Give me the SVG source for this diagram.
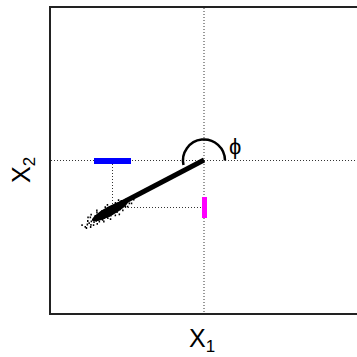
<svg xmlns="http://www.w3.org/2000/svg" width="357" height="357" viewBox="0 0 357 357">
<style>
.frame{fill:none;stroke:#222;stroke-width:2}
.dot{fill:none;stroke:#333;stroke-width:1;stroke-dasharray:1 2}
.lbl{font-family:"Liberation Sans",Arial,sans-serif;fill:#000}
</style>
<rect width="357" height="357" fill="#fff"/>
<g id="frame"><rect class="frame" x="50" y="7" width="330" height="307"/></g>
<g id="connectors">
<line class="dot" x1="204" y1="8" x2="204" y2="313"/>
<line class="dot" x1="51" y1="160.5" x2="357" y2="160.5"/>
<line class="dot" x1="112.5" y1="164" x2="112.5" y2="208"/>
<line class="dot" x1="113" y1="207.5" x2="202" y2="207.5"/>
</g>
<g id="cloud" fill="#000">
<ellipse cx="110" cy="211" rx="20" ry="4.8" transform="rotate(-28 110 211)"/>
<path fill="none" stroke="#000" stroke-width="1.8" d="M86.6 224.5h1.5M87 221h1.5M90.2 224.9h1.5M90.6 221.3h1.5M89.6 217.3h1.5M93.3 222.2h1.5M96.5 223.9h1.5M94.5 218.1h1.5M94.5 215.9h1.5M98.6 221.6h1.5M98.1 218.4h1.5M96.2 212.7h1.5M100.3 218.4h1.5M103.1 221.5h1.5M100.2 213.9h1.5M103.5 217.9h1.5M101.1 211.2h1.5M103.8 214.3h1.5M107.1 218.2h1.5M104.2 210.7h1.5M107.4 214.6h1.5M104.5 207.1h1.5M110.1 215.5h1.5M108.7 210.6h1.5M111.4 213.6h1.5M109 207h1.5M114.6 215.4h1.5M112.6 209.6h1.5M112.1 206.5h1.5M116.3 212.2h1.5M114.4 206.4h1.5M117.1 209.5h1.5M114.7 202.8h1.5M119.4 209.4h1.5M118.4 205.4h1.5M122.1 210.3h1.5M119.2 202.7h1.5M122 205.8h1.5M120.5 200.9h1.5M124.7 206.6h1.5M123.2 201.7h1.5M126.9 206.6h1.5M125.9 202.6h1.5M125.4 199.4h1.5M128.6 203.4h1.5M128.1 200.3h1.5M130.8 203.3h1.5M130.3 198h1.5M84.5 226.8h1.5M81.3 225.1h1.5M89.9 227h1.5M90.4 214.6h1.5M96.1 210.5h1.5M109.8 219.1h1.5M118.6 214.4h1.5M117.8 200.1h1.5M87.3 217.4h1.5M106.7 204.8h1.5M85.7 228h1.5M92 219.6h1.5M95.5 220.8h1.5M99.2 215.7h1.5M102 216.2h1.5M105.6 212.4h1.5M106.2 216.8h1.5M110.8 211.6h1.5M113.5 211.9h1.5M115.9 208.1h1.5M120.5 207.3h1.5M123.6 203.6h1.5M127.2 201.4h1.5M88.4 223.1h1.5M92.8 225.2h1.5M97.4 216.9h1.5M101.8 219.9h1.5M108.3 216.2h1.5M133 199.5h1.5"/>
</g>
<g id="vector"><line x1="204" y1="160" x2="118" y2="205" stroke="#000" stroke-width="5"/></g>
<g id="angle"><path d="M183.5 165 A21 21 0 1 1 225 160.5" fill="none" stroke="#000" stroke-width="2.5"/>
<text class="lbl" x="229" y="154" font-size="22">ϕ</text></g>
<g id="bar-x2"><rect x="94" y="158" width="37" height="6" fill="#0000ff"/></g>
<g id="bar-x1"><rect x="202" y="197" width="5" height="21" fill="#ff00ff"/></g>
<g id="label-x1"><text class="lbl" x="189" y="347" font-size="25">X<tspan font-size="17" dy="5">1</tspan></text></g>
<g id="label-x2"><text class="lbl" transform="translate(30,183) rotate(-90)" font-size="25">X<tspan font-size="17" dy="5">2</tspan></text></g>
</svg>
